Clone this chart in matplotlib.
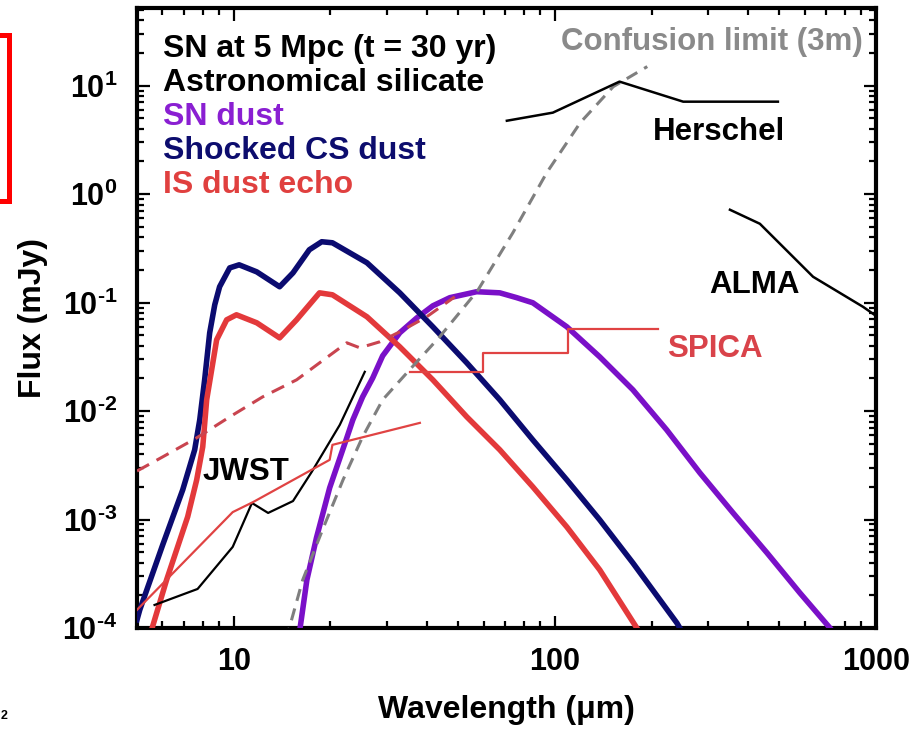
import matplotlib.pyplot as plt
import matplotlib.patches as mpatches
from matplotlib.ticker import LogLocator, NullFormatter


# ── Дані (λ у мкм, потік у мДж) ──────────────────────────────────────────

CS_WAVE = [5.0, 5.10, 6.01, 6.94, 7.56, 7.84, 8.12, 8.42, 8.73, 9.04, 9.72,
           10.4, 11.8, 13.9, 15.3, 17.2, 18.8, 20.3, 26.0, 32.9, 41.7, 53.2,
           67.4, 85.4, 109, 138, 175, 240, 249]
CS_FLUX = [1.19e-4, 1.47e-4, 5.83e-4, 1.88e-3, 4.39e-3, 8.30e-3, 1.94e-2,
           5.27e-2, 9.54e-2, 0.140, 0.209, 0.223, 0.192, 0.140, 0.188, 0.307,
           0.364, 0.356, 0.233, 0.123, 5.98e-2, 2.78e-2, 1.27e-2, 5.42e-3,
           2.32e-3, 9.92e-4, 3.98e-4, 1.11e-4, 9.2e-5]

ECHO_WAVE = [5.55, 6.18, 7.19, 7.67, 8.01, 8.24, 8.85, 9.51, 10.2, 11.8, 13.9,
             15.7, 18.5, 20.3, 26.0, 32.9, 41.7, 53.2, 67.4, 85.4, 109, 138,
             180, 184]
ECHO_FLUX = [9.6e-5, 2.77e-4, 1.06e-3, 2.32e-3, 4.68e-3, 1.27e-2, 4.54e-2,
             6.94e-2, 7.72e-2, 6.51e-2, 4.73e-2, 6.94e-2, 0.123, 0.118,
             7.40e-2, 3.91e-2, 1.94e-2, 8.84e-3, 4.39e-3, 2.00e-3, 8.54e-4,
             3.43e-4, 1.0e-4, 9.0e-5]

ECHO_DASH_WAVE = [5.0, 6.01, 7.67, 9.72, 12.3, 15.7, 18.5, 22.5, 24.7, 28.5,
                  32.9, 39.9, 48.8]
ECHO_DASH_FLUX = [2.8e-3, 3.78e-3, 5.66e-3, 8.84e-3, 1.35e-2, 1.94e-2,
                  2.78e-2, 4.26e-2, 3.83e-2, 4.35e-2, 5.38e-2, 7.40e-2, 0.113]

SN_WAVE = [15.8, 16.1, 16.9, 18.1, 19.9, 22.5, 23.5, 25.2, 27.1, 29.1, 32.9,
           37.2, 41.7, 47.1, 57.1, 67.4, 76.1, 85.4, 109, 138, 175, 223, 283,
           359, 458, 580, 719, 740]
SN_FLUX = [6.97e-5, 1.0e-4, 2.77e-4, 6.77e-4, 1.96e-3, 5.66e-3, 8.30e-3,
           1.35e-2, 2.02e-2, 3.23e-2, 5.27e-2, 7.24e-2, 9.34e-2, 0.111, 0.126,
           0.123, 0.111, 9.96e-2, 5.98e-2, 3.16e-2, 1.57e-2, 6.71e-3, 2.69e-3,
           1.15e-3, 4.92e-4, 2.10e-4, 1.0e-4, 9.0e-5]

CONF_WAVE = [14.7, 14.9, 16.4, 18.9, 21.9, 25.2, 29.1, 35.3, 43.8, 57.5, 74.0,
             94.4, 120, 152, 194]
CONF_FLUX = [7.75e-5, 1.0e-4, 2.77e-4, 8.02e-4, 2.32e-3, 5.78e-3, 1.27e-2,
             2.40e-2, 4.84e-2, 0.129, 0.440, 1.58, 4.56, 9.79, 15.0]

HERSCHEL_WAVE = [70.9, 98.6, 159, 251, 495]
HERSCHEL_FLUX = [4.75, 5.64, 10.9, 7.12, 7.12]

ALMA_WAVE = [351, 435, 637, 911, 1000]
ALMA_FLUX = [0.718, 0.533, 0.173, 9.15e-2, 7.55e-2]

JWST_WAVE = [5.67, 7.72, 9.93, 11.4, 12.8, 15.3, 17.5, 21.4, 25.6]
JWST_FLUX = [1.63e-4, 2.29e-4, 5.59e-4, 1.42e-3, 1.15e-3, 1.48e-3, 2.75e-3,
             7.46e-3, 2.30e-2]

SPICA_SHORT_WAVE = [5.0, 9.93, 11.5, 19.9, 20.3, 38.0]
SPICA_SHORT_FLUX = [1.47e-4, 1.17e-3, 1.45e-3, 3.55e-3, 4.88e-3, 7.78e-3]

SPICA_LONG_WAVE = [35.3, 59.7, 59.7, 110, 110, 209]
SPICA_LONG_FLUX = [2.30e-2, 2.30e-2, 3.44e-2, 3.44e-2, 5.73e-2, 5.73e-2]

X_TICKS = [10, 100, 1000]
X_TICK_LABELS = ['10', '100', '1000']
Y_TICKS = [1e-4, 1e-3, 1e-2, 1e-1, 1e0, 1e1]
Y_EXPONENTS = ['-4', '-3', '-2', '-1', '0', '1']

LEGEND_LINES = [
    ('SN at 5 Mpc (t = 30 yr)', 'black'),
    ('Astronomical silicate',   'black'),
    ('SN dust',                 '#8a1fd2'),
    ('Shocked CS dust',         '#0d0d6e'),
    ('IS dust echo',            '#e0403f'),
]


# ── Кольори ────────────────────────────────────────────────────────────────

NAVY   = '#0b0b70'
RED    = '#e3393b'
RED_D  = '#c9444f'
PURPLE = '#7a10c8'
GRAY   = '#7f7f7f'
SPICA  = '#e04343'


def main():
    plt.rcParams['font.family'] = ['Liberation Sans', 'DejaVu Sans']
    plt.rcParams['font.weight'] = 'bold'
    plt.rcParams['mathtext.fontset'] = 'custom'
    plt.rcParams['mathtext.rm'] = 'Liberation Sans:bold'
    plt.rcParams['mathtext.bf'] = 'Liberation Sans:bold'
    plt.rcParams['mathtext.it'] = 'Liberation Sans:bold'

    fig = plt.figure(figsize=(9.14, 7.35), dpi=100)
    ax = fig.add_axes([0.1499, 0.1456, 0.8085, 0.8435])

    # криві
    ax.plot(SN_WAVE, SN_FLUX, color=PURPLE, lw=4.0, zorder=3,
            solid_joinstyle='round')
    ax.plot(CS_WAVE, CS_FLUX, color=NAVY, lw=4.0, zorder=4,
            solid_joinstyle='round')
    ax.plot(ECHO_WAVE, ECHO_FLUX, color=RED, lw=4.0, zorder=5,
            solid_joinstyle='round')
    ax.plot(ECHO_DASH_WAVE, ECHO_DASH_FLUX, color=RED_D, lw=2.2, zorder=5,
            dashes=(4.5, 2.8))
    ax.plot(CONF_WAVE, CONF_FLUX, color=GRAY, lw=2.2, zorder=6,
            dashes=(4.0, 2.6))
    ax.plot(HERSCHEL_WAVE, HERSCHEL_FLUX, color='black', lw=1.8, zorder=6)
    ax.plot(ALMA_WAVE, ALMA_FLUX, color='black', lw=1.8, zorder=6)
    ax.plot(JWST_WAVE, JWST_FLUX, color='black', lw=1.6, zorder=6)
    ax.plot(SPICA_SHORT_WAVE, SPICA_SHORT_FLUX, color=SPICA, lw=1.6, zorder=6)
    ax.plot(SPICA_LONG_WAVE, SPICA_LONG_FLUX, color=SPICA, lw=1.6, zorder=6)

    ax.set_xscale('log')
    ax.set_yscale('log')
    ax.set_xlim(5, 1000)
    ax.set_ylim(1e-4, 52)

    # осі та поділки (показник з коротким дефісом, як в оригіналі)
    ax.set_xticks(X_TICKS)
    ax.set_xticklabels(X_TICK_LABELS)
    ax.set_yticks(Y_TICKS)
    ax.set_yticklabels([r'$10^{\text{%s}}$' % e for e in Y_EXPONENTS])
    ax.xaxis.set_minor_locator(LogLocator(base=10, subs=range(2, 10), numticks=50))
    ax.yaxis.set_minor_locator(LogLocator(base=10, subs=range(2, 10), numticks=50))
    ax.xaxis.set_minor_formatter(NullFormatter())
    ax.yaxis.set_minor_formatter(NullFormatter())
    ax.tick_params(which='both', direction='in', top=True, right=True,
                   width=1.6, color='black')
    ax.tick_params(which='major', length=9)
    ax.tick_params(which='minor', length=5)
    ax.tick_params(axis='x', which='major', labelsize=22, pad=14)
    ax.tick_params(axis='y', which='major', labelsize=22, pad=14)
    for sp in ax.spines.values():
        sp.set_linewidth(3.0)

    ax.set_xlabel('Wavelength (μm)', fontsize=23, fontweight='bold', labelpad=13)
    ax.set_ylabel('Flux (mJy)', fontsize=23, fontweight='bold', labelpad=10)

    # легенда з тексту
    for i, (txt, col) in enumerate(LEGEND_LINES):
        ax.text(0.035, 0.921 - 0.0548 * i, txt, transform=ax.transAxes,
                fontsize=23, fontweight='bold', color=col, va='baseline')

    # підписи інструментів
    ax.text(0.982, 0.932, 'Confusion limit (3m)', transform=ax.transAxes,
            ha='right', va='baseline', fontsize=22.5, color='#8a8a8a')
    ax.text(0.698, 0.787, 'Herschel', transform=ax.transAxes,
            va='baseline', fontsize=22.5, color='black')
    ax.text(0.775, 0.540, 'ALMA', transform=ax.transAxes,
            va='baseline', fontsize=22.5, color='black')
    ax.text(0.717, 0.437, 'SPICA', transform=ax.transAxes,
            va='baseline', fontsize=22.5, color='#d9434a')
    ax.text(0.0893, 0.239, 'JWST', transform=ax.transAxes,
            va='baseline', fontsize=22.5, color='black')

    # червона рамка зліва та номер сторінки
    fig.add_artist(mpatches.Rectangle((-0.05, 0.7272), 0.0593, 0.2258,
                                      transform=fig.transFigure, fill=False,
                                      edgecolor='#ff0000', linewidth=3.6,
                                      clip_on=False))
    fig.text(0.001, 0.022, '2', fontsize=9, fontweight='bold', color='black')

    fig.savefig('out.png', dpi=100)


if __name__ == "__main__":
    main()
